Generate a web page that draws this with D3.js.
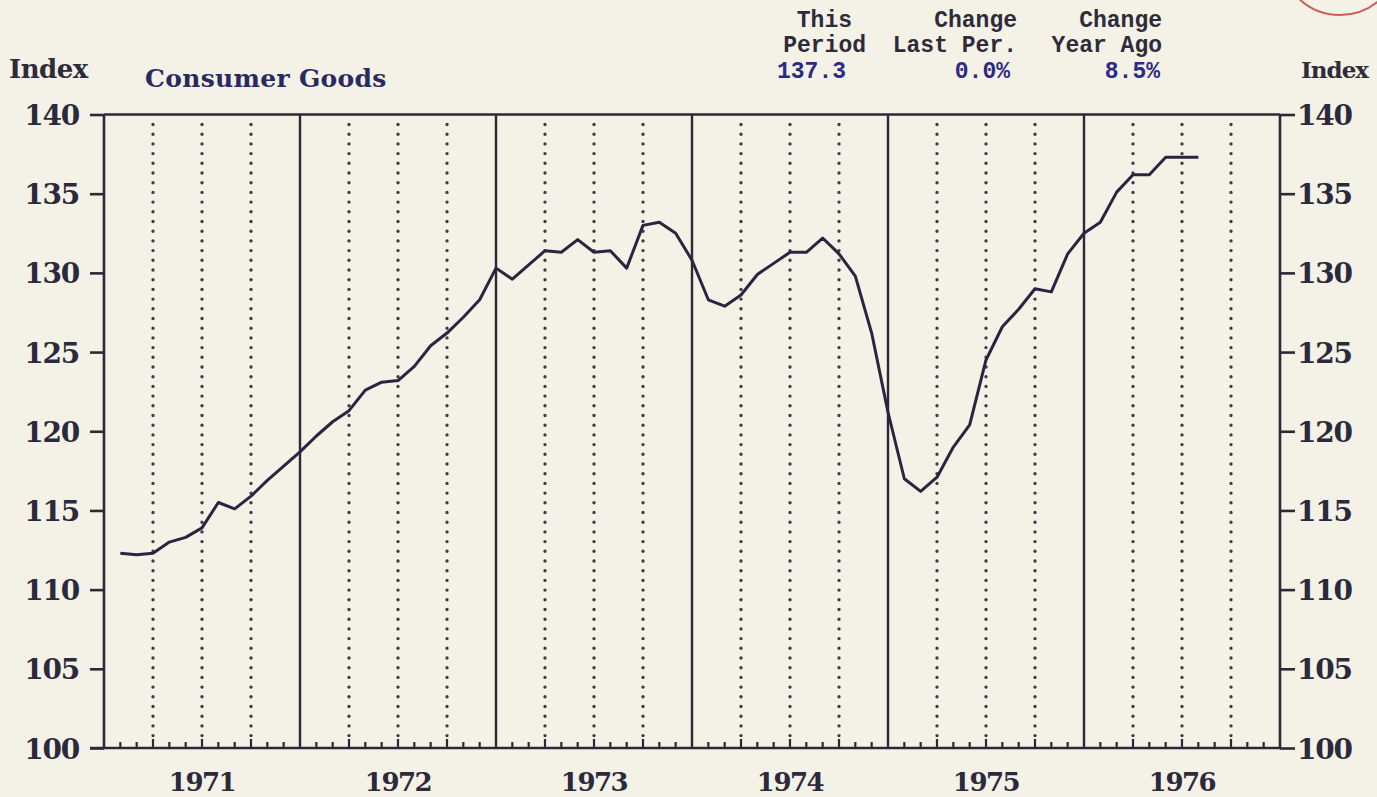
<!DOCTYPE html>
<html>
<head>
<meta charset="utf-8">
<script src="https://cdn.jsdelivr.net/npm/d3@7"></script>
<style>
  html, body { margin: 0; padding: 0; background: #f3f0e5; }
  svg { display: block; }
</style>
</head>
<body>
<svg id="chart" width="1377" height="797"></svg>
<script>
// ---- data ----
const years = [1971, 1972, 1973, 1974, 1975, 1976];
const yTicks = [100, 105, 110, 115, 120, 125, 130, 135, 140];
const firstMonthIndex = 1; // Feb 1971 (months counted from Jan 1971 = 0)
const values = [
  112.3, 112.2, 112.3, 113.0, 113.3, 113.9, 115.5, 115.1, 115.9, 116.9, 117.8,
  118.7, 119.7, 120.6, 121.3, 122.6, 123.1, 123.2, 124.1, 125.4, 126.2, 127.2, 128.3,
  130.3, 129.6, 130.5, 131.4, 131.3, 132.1, 131.3, 131.4, 130.3, 133.0, 133.2, 132.5,
  130.8, 128.3, 127.9, 128.6, 129.9, 130.6, 131.3, 131.3, 132.2, 131.2, 129.8, 126.2,
  121.2, 117.0, 116.2, 117.1, 119.0, 120.4, 124.5, 126.6, 127.7, 129.0, 128.8, 131.2,
  132.5, 133.2, 135.1, 136.2, 136.2, 137.3, 137.3, 137.3
];
const title = "Consumer Goods";
const statHeads1 = ["This", "Change", "Change"];
const statHeads2 = ["Period", "Last Per.", "Year Ago"];
const statValues = ["137.3", "0.0%", "8.5%"];

// ---- layout ----
const W = 1377, H = 797;
const L = 104, R = 1280, T = 114.5, B = 748;
const ink = "#2c2836";
const svg = d3.select("#chart");
svg.append("rect").attr("width", W).attr("height", H).attr("fill", "#f4f1e6");

const nMonths = years.length * 12;
const x = d3.scaleLinear().domain([0, nMonths]).range([L, R]);
const y = d3.scaleLinear().domain([100, 140]).range([B, T]);

const serif = "'DejaVu Serif', serif";
const mono = "'Liberation Mono', 'Courier New', monospace";

// dotted quarter lines
const quarterIdx = d3.range(0, nMonths + 1, 3).filter(m => m % 12 !== 0);
svg.append("g").selectAll("line").data(quarterIdx).join("line")
  .attr("x1", d => x(d)).attr("x2", d => x(d))
  .attr("y1", y(140) + 10).attr("y2", y(100) - 4)
  .attr("stroke", "#3e3b4a").attr("stroke-width", 3.4)
  .attr("stroke-linecap", "round").attr("stroke-dasharray", "0 9.7");

// solid year lines
const yearIdx = d3.range(12, nMonths, 12);
svg.append("g").selectAll("line").data(yearIdx).join("line")
  .attr("x1", d => x(d)).attr("x2", d => x(d))
  .attr("y1", y(140)).attr("y2", y(100))
  .attr("stroke", ink).attr("stroke-width", 2.4);

// frame
svg.append("line").attr("x1", L).attr("x2", R).attr("y1", y(140)).attr("y2", y(140))
  .attr("stroke", ink).attr("stroke-width", 2.6);
svg.append("line").attr("x1", L).attr("x2", L).attr("y1", y(140)).attr("y2", y(100))
  .attr("stroke", ink).attr("stroke-width", 2.6);
svg.append("line").attr("x1", R).attr("x2", R).attr("y1", y(140)).attr("y2", y(100))
  .attr("stroke", ink).attr("stroke-width", 2.6);

// left & right axes (ticks + labels)
const leftAxis = d3.axisLeft(y).tickValues(yTicks).tickSize(14).tickPadding(11);
const gl = svg.append("g").attr("transform", `translate(${L},0)`).call(leftAxis);
const rightAxis = d3.axisRight(y).tickValues(yTicks).tickSize(15).tickPadding(2);
const gr = svg.append("g").attr("transform", `translate(${R},0)`).call(rightAxis);
[gl, gr].forEach(g => {
  g.select(".domain").remove();
  g.selectAll(".tick line").attr("stroke", ink).attr("stroke-width", 2.6);
  g.selectAll(".tick text").attr("fill", "#2b2a3c")
    .style("font-family", serif).style("font-weight", "bold")
    .style("font-size", "28px").attr("dy", "0.36em")
    .attr("letter-spacing", "-1.2");
});

// bottom axis line and monthly ticks
svg.append("line").attr("x1", L - 14).attr("x2", R).attr("y1", y(100)).attr("y2", y(100))
  .attr("stroke", ink).attr("stroke-width", 2.6);
const monthIdx = d3.range(1, nMonths).filter(m => m % 12 !== 0);
svg.append("g").selectAll("line").data(monthIdx).join("line")
  .attr("x1", d => x(d)).attr("x2", d => x(d))
  .attr("y1", y(100)).attr("y2", d => y(100) - (d % 3 === 0 ? 9 : 6))
  .attr("stroke", ink).attr("stroke-width", 2.2);

// year labels
svg.append("g").selectAll("text").data(years).join("text")
  .attr("x", (d, i) => x(i * 12 + 6)).attr("y", 791)
  .attr("text-anchor", "middle").attr("fill", "#2b2a3c")
  .style("font-family", serif).style("font-weight", "bold").style("font-size", "26px")
  .attr("letter-spacing", "-1.5")
  .text(d => d);

// data line
const line = d3.line().x((d, i) => x(firstMonthIndex + i)).y(d => y(d));
svg.append("path").datum(values).attr("d", line)
  .attr("fill", "none").attr("stroke", "#2a2440").attr("stroke-width", 3)
  .attr("stroke-linejoin", "round");

// headers
svg.append("text").attr("x", 9).attr("y", 78).text("Index")
  .attr("fill", "#2e2c3a").style("font-family", serif).style("font-weight", "bold")
  .style("font-size", "26px").attr("letter-spacing", "-0.5");
svg.append("text").attr("x", 1368).attr("y", 78).attr("text-anchor", "end").text("Index")
  .attr("fill", "#2e2c3a").style("font-family", serif).style("font-weight", "bold")
  .style("font-size", "23px").attr("letter-spacing", "-1");
svg.append("text").attr("x", 145).attr("y", 87).text(title)
  .attr("fill", "#2a2a62").style("font-family", serif).style("font-weight", "bold")
  .style("font-size", "25px").attr("letter-spacing", "0.3");

const col1 = [852, 1017, 1162];
const col2 = [866, 1017, 1162];
const col3 = [846, 1010, 1160];
const statStyle = sel => sel.attr("text-anchor", "end")
  .style("font-family", mono).style("font-weight", "bold").style("font-size", "23px");
svg.append("g").selectAll("text").data(statHeads1).join("text")
  .attr("x", (d, i) => col1[i]).attr("y", 27).attr("fill", "#2d2b3a")
  .call(statStyle).text(d => d);
svg.append("g").selectAll("text").data(statHeads2).join("text")
  .attr("x", (d, i) => col2[i]).attr("y", 52).attr("fill", "#2d2b3a")
  .call(statStyle).text(d => d);
svg.append("g").selectAll("text").data(statValues).join("text")
  .attr("x", (d, i) => col3[i]).attr("y", 78).attr("fill", "#2c2a86")
  .call(statStyle).text(d => d);

// red stamp arc (partially visible at the top right)
svg.append("circle").attr("cx", 1340).attr("cy", -45).attr("r", 60)
  .attr("fill", "none").attr("stroke", "#cf5a5a").attr("stroke-width", 2);
</script>
</body>
</html>
